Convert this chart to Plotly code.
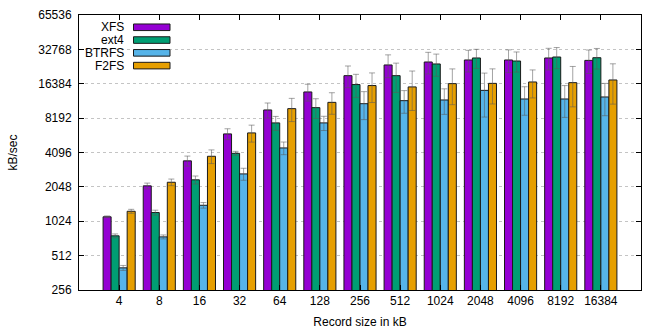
import plotly.graph_objects as go

record_sizes = ["4", "8", "16", "32", "64", "128", "256", "512", "1024", "2048", "4096", "8192", "16384"]

xfs = [1120, 2090, 3460, 5960, 9660, 13890, 19290, 23930, 25410, 26460, 26460, 27550, 26240]
ext4 = [763, 1220, 2360, 4030, 7440, 10120, 16120, 19290, 24420, 27550, 25920, 28100, 27700]
btrfs = [400, 747, 1413, 2660, 4490, 7440, 10960, 11650, 11810, 14340, 12050, 12050, 12550]
f2fs = [1252, 2248, 3796, 6080, 9920, 11260, 15800, 15370, 16420, 16510, 16980, 16750, 17680]

xfs_err = [20, 120, 350, 650, 1450, 2330, 4150, 5410, 5460, 5690, 5980, 5920, 6110]
ext4_err = [30, 60, 190, 160, 1040, 1990, 3690, 5540, 5370, 5240, 5180, 5900, 5680]
btrfs_err = [20, 30, 80, 320, 570, 1060, 3010, 2620, 2980, 5970, 3370, 3740, 3950]
f2fs_err = [50, 150, 520, 1030, 2280, 2410, 4580, 5810, 5680, 5610, 4670, 6470, 6820]

names = ["XFS", "ext4", "BTRFS", "F2FS"]
colors = ["#9400D3", "#009E73", "#56B4E9", "#E69F00"]
series = [xfs, ext4, btrfs, f2fs]
errors = [xfs_err, ext4_err, btrfs_err, f2fs_err]

yticks = [256, 512, 1024, 2048, 4096, 8192, 16384, 32768, 65536]

FONT = "Liberation Sans, Arial, sans-serif"

fig = go.Figure()
for name, color, vals, errs in zip(names, colors, series, errors):
    fig.add_trace(go.Bar(
        x=record_sizes, y=vals, name=name,
        marker=dict(color=color, line=dict(color="#1a1a1a", width=1)),
        error_y=dict(type="data", array=errs, visible=True,
                     color="rgba(90,90,90,0.55)", thickness=1, width=3),
        showlegend=False,
    ))

# gnuplot-style key: right-aligned label, swatch on the right
for i, (name, color) in enumerate(zip(names, colors)):
    yc = 27.3 + i * 12.8
    fig.add_annotation(xref="paper", yref="paper",
                       x=(126 - 79) / 562, y=1 - (yc - 15) / 275.5,
                       text=name, showarrow=False, xanchor="right", yanchor="middle",
                       font=dict(family=FONT, size=12, color="#000"))
    fig.add_shape(type="rect", xref="paper", yref="paper",
                  x0=(133.5 - 79) / 562, x1=(170 - 79) / 562,
                  y0=1 - (yc + 3.3 - 15) / 275.5, y1=1 - (yc - 3.3 - 15) / 275.5,
                  fillcolor=color, line=dict(color="#1a1a1a", width=1))

fig.update_layout(
    width=664, height=332,
    autosize=False,
    barmode="group", bargap=0.2, bargroupgap=0,
    plot_bgcolor="white", paper_bgcolor="white",
    margin=dict(l=79, r=23, t=15, b=41.5, pad=0),
    font=dict(family=FONT, size=12, color="#000"),
    xaxis=dict(
        type="category", range=[-1, 13], automargin=False,
        title=dict(text="Record size in kB", standoff=10, font=dict(size=12)),
        showgrid=False, zeroline=False,
        showline=True, linecolor="#000", linewidth=1, mirror="ticks",
        ticks="inside", ticklen=5, tickcolor="#000",
    ),
    yaxis=dict(
        type="log", range=[2.40824, 4.81648], automargin=False,
        tickvals=yticks, ticktext=[str(v) for v in yticks],
        ticklabelstandoff=4,
        title=dict(text="kB/sec", standoff=18, font=dict(size=12)),
        showgrid=True, gridcolor="#c4c4c4", griddash="dot", gridwidth=1,
        zeroline=False,
        showline=True, linecolor="#000", linewidth=1, mirror="ticks",
        ticks="inside", ticklen=5, tickcolor="#000",
    ),
)

fig.write_html("out.html", config={"displayModeBar": False},
               post_script="document.body.style.margin='0';")
